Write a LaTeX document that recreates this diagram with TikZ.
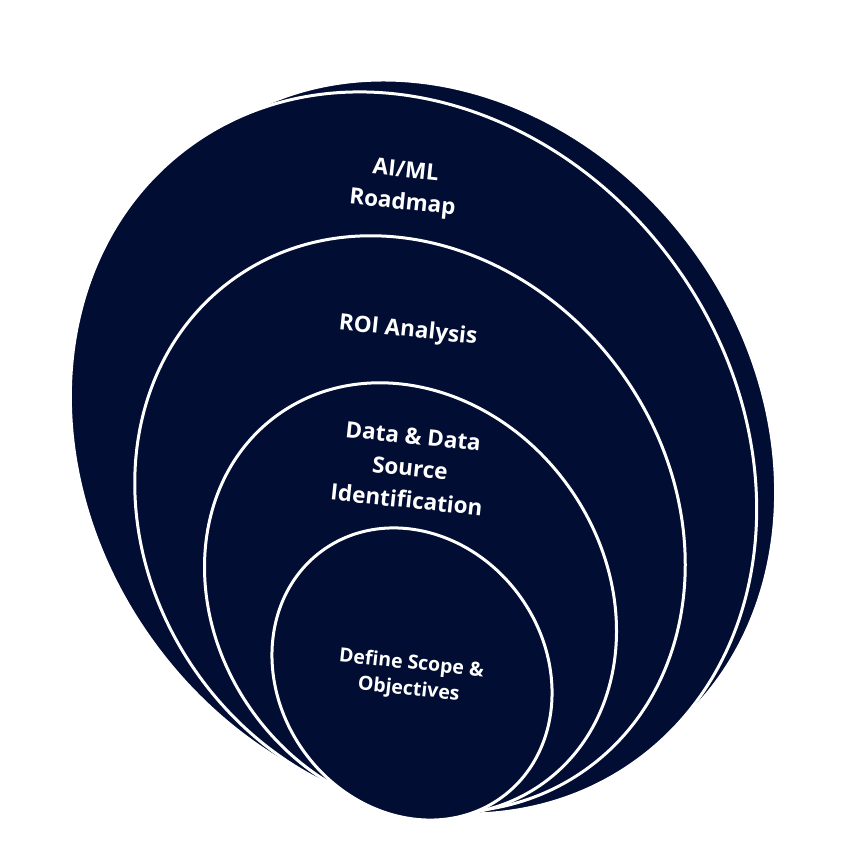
\documentclass[tikz,border=0pt]{standalone}
\usepackage{fontspec}
\newfontfamily\ringfont{Open Sans}
\usetikzlibrary{positioning}
\definecolor{ringnavy}{RGB}{1,13,50}
\tikzset{
  ring/.style={fill=ringnavy, draw=white, line width=3pt},
  ringlabel/.style={text=white, align=center, rotate=-6, inner sep=0pt,
                    font=\ringfont\bfseries\fontsize{22.5}{32}\selectfont},
  ringlabelsmall/.style={ringlabel, font=\ringfont\bfseries\fontsize{19.5}{26}\selectfont},
}
\begin{document}
\begin{tikzpicture}[x=1pt,y=1pt]
  \useasboundingbox (0,0) rectangle (852,864);
  \fill[white] (0,0) rectangle (852,864);
  \coordinate (c0) at (436.6,427.3);
  \coordinate (c1) at (413.5,411);
  \coordinate (c2) at (410,340);
  \coordinate (c3) at (410.5,265);
  \coordinate (c4) at (412,190);
  \draw[ring, rotate around={-54:(c0)}] (c0) ellipse [x radius=375.4pt, y radius=318.1pt];
  \draw[ring, rotate around={-54:(c1)}] (c1) ellipse [x radius=380pt, y radius=322pt];
  \draw[ring, rotate around={-54:(c2)}] (c2) ellipse [x radius=302pt, y radius=260pt];
  \draw[ring, rotate around={-54:(c3)}] (c3) ellipse [x radius=227pt, y radius=194pt];
  \draw[ring, rotate around={-54:(c4)}] (c4) ellipse [x radius=152.5pt, y radius=133pt];
  \node[ringlabel] (roadmap) at (404,676) {AI/ML\\Roadmap};
  \node[ringlabel] (roi) at (408,533) {ROI Analysis};
  \node[ringlabel] (data) at (410,396) {Data \& Data\\Source\\Identification};
  \node[ringlabelsmall] (scope) at (410,187) {Define Scope \&\\Objectives};
\end{tikzpicture}
\end{document}
